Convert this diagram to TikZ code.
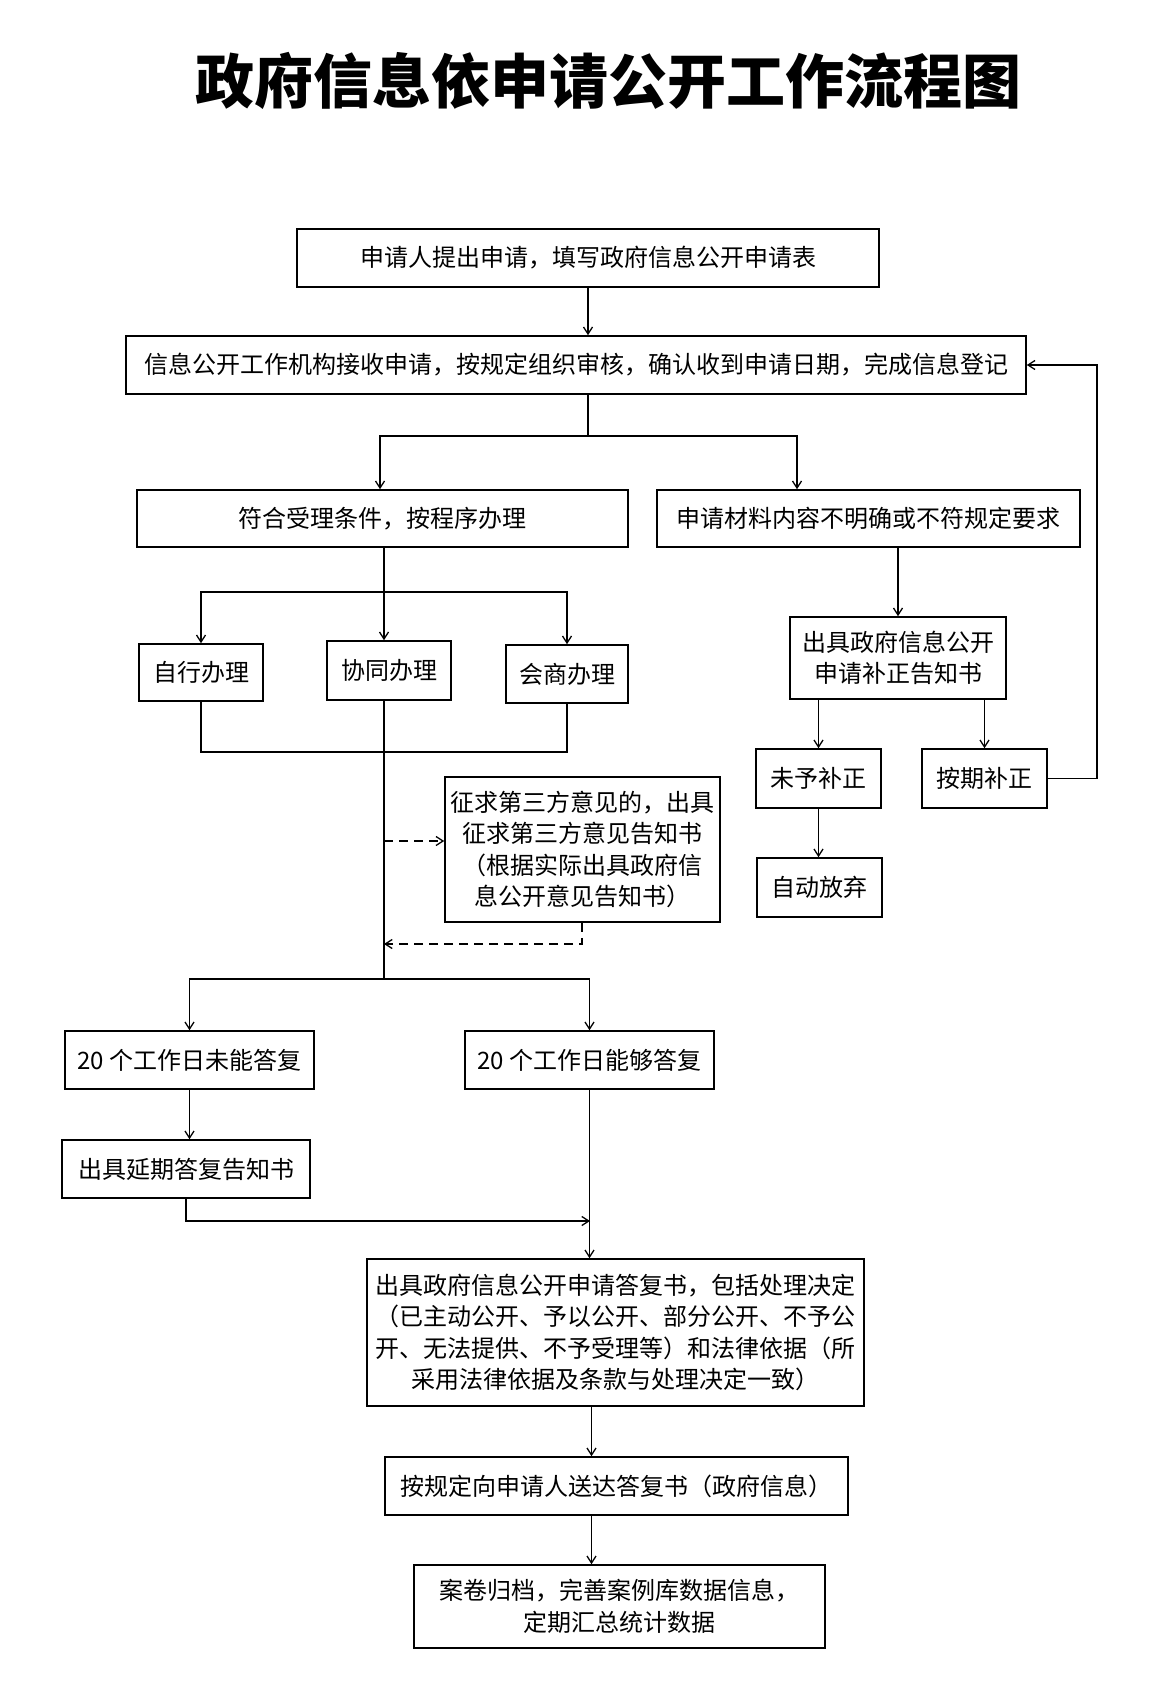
\documentclass[tikz,border=0pt]{standalone}
\usepackage{fontspec}
\setmainfont{Noto Sans CJK SC}
\usetikzlibrary{arrows.meta,calc}
\begin{document}
\begin{tikzpicture}[x=1pt,y=-1pt,
  box/.style={draw,line width=1.6pt,inner sep=0pt,align=center,font=\fontsize{24}{31.5}\selectfont},
  ln/.style={line width=1.3pt},
  arr/.style={ln,-{Straight Barb[length=7pt,width=9pt]}},
  dsh/.style={arr,dash pattern=on 9pt off 6pt}]
\useasboundingbox[fill=white] (0,0) rectangle (1150,1693);

\node[font=\fontsize{59}{59}\selectfont\bfseries] (title) at (608,81) {政府信息依申请公开工作流程图};

\node[box,minimum width=582pt,minimum height=58pt] (b1) at (588,258) {申请人提出申请，填写政府信息公开申请表};
\node[box,minimum width=900pt,minimum height=58pt] (b2) at (576,365) {信息公开工作机构接收申请，按规定组织审核，确认收到申请日期，完成信息登记};
\node[box,minimum width=491pt,minimum height=57pt] (b3) at (382.5,518.5) {符合受理条件，按程序办理};
\node[box,minimum width=423pt,minimum height=57pt] (b4) at (868.5,518.5) {申请材料内容不明确或不符规定要求};
\node[box,minimum width=124pt,minimum height=57pt] (b5) at (201,672.5) {自行办理};
\node[box,minimum width=124pt,minimum height=59pt] (b6) at (389,670.5) {协同办理};
\node[box,minimum width=122pt,minimum height=58pt] (b7) at (567,674) {会商办理};
\node[box,minimum width=216pt,minimum height=82pt] (b8) at (898,658) {出具政府信息公开\\申请补正告知书};
\node[box,minimum width=125pt,minimum height=59pt] (b9) at (818.5,778.5) {未予补正};
\node[box,minimum width=125pt,minimum height=59pt] (b10) at (984.5,778.5) {按期补正};
\node[box,minimum width=125pt,minimum height=59pt] (b11) at (819.5,887.5) {自动放弃};
\node[box,minimum width=275pt,minimum height=145pt] (b12) at (582.5,849.5) {征求第三方意见的，出具\\征求第三方意见告知书\\（根据实际出具政府信\\息公开意见告知书）};
\node[box,minimum width=249pt,minimum height=58pt] (b13) at (189.5,1060) {20 个工作日未能答复};
\node[box,minimum width=249pt,minimum height=58pt] (b14) at (589.5,1060) {20 个工作日能够答复};
\node[box,minimum width=248pt,minimum height=58pt] (b15) at (186,1169) {出具延期答复告知书};
\node[box,minimum width=497pt,minimum height=147pt] (b16) at (615.5,1332.5) {出具政府信息公开申请答复书，包括处理决定\\（已主动公开、予以公开、部分公开、不予公\\开、无法提供、不予受理等）和法律依据（所\\采用法律依据及条款与处理决定一致）};
\node[box,minimum width=463pt,minimum height=58pt] (b17) at (616.5,1486) {按规定向申请人送达答复书（政府信息）};
\node[box,minimum width=411pt,minimum height=83pt] (b18) at (619.5,1606.5) {案卷归档，完善案例库数据信息，\\定期汇总统计数据};

% coordinates
\coordinate (s1M) at (588,436);
\coordinate (s1L) at (380,436);
\coordinate (s1R) at (797,436);
\coordinate (s2) at (384,592);
\coordinate (j2) at (384,752);
\coordinate (d1) at (384,841);
\coordinate (d2) at (582,944);
\coordinate (s3) at (384,979);
\coordinate (j4) at (590,1221);
\coordinate (r1) at (1097,778.5);

% top
\draw[arr] (b1.south) -- (b1.south |- b2.north);
\draw[ln] (b1.south |- b2.south) -- (s1M);
\draw[arr] (s1M) -| (s1L |- b3.north);
\draw[arr] (s1M) -| (s1R |- b4.north);

% left branch
\draw[ln] (b3.south -| s2) -- (s2);
\draw[arr] (s2) -| (b5.north);
\draw[arr] (s2) -- (s2 |- b6.north);
\draw[arr] (s2) -| (b7.north);
\draw[ln] (b5.south) |- (j2) -| (b7.south);
\draw[ln] (b6.south -| s2) -- (s3);
\draw[dsh] (d1) -- (d1 -| b12.west);
\draw[dsh] (b12.south -| d2) |- (s2 |- d2);
\draw[arr] (s3) -| (b13.north);
\draw[arr] (s3) -| (b14.north);
\draw[arr] (b13.south) -- (b13.south |- b15.north);
\draw[arr] (b15.south) |- (j4);
\draw[arr] (b14.south) -- (b14.south |- b16.north);
\draw[arr] ($(b14.south |- b16.south)+(2,0)$) -- ($(b14.south |- b17.north)+(2,0)$);
\draw[arr] ($(b14.south |- b17.south)+(2,0)$) -- ($(b14.south |- b18.north)+(2,0)$);

% right branch
\draw[arr] (b4.south -| b8.north) -- (b8.north);
\draw[arr] (b8.south -| b9.north) -- (b9.north);
\draw[arr] (b8.south -| b10.north) -- (b10.north);
\draw[arr] (b9.south) -- (b9.south |- b11.north);
\draw[arr] (b10.east) -- (r1) |- (b2.east);
\end{tikzpicture}
\end{document}
